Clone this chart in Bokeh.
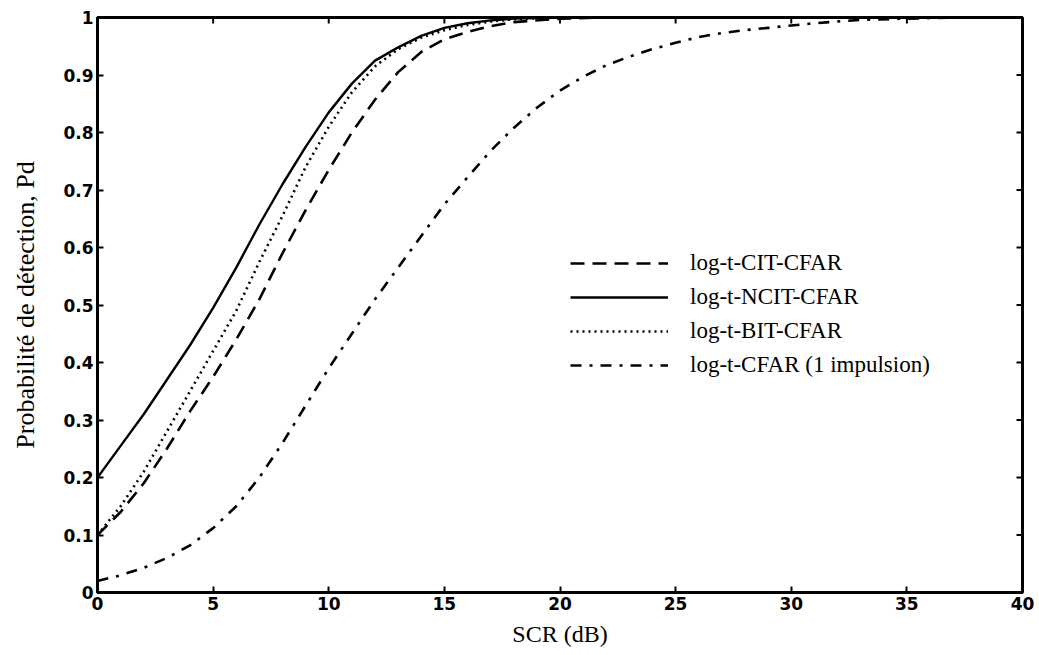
from bokeh.plotting import figure
from bokeh.models import Legend, LegendItem, Range1d, FixedTicker
from bokeh.embed import file_html
from bokeh.resources import INLINE

# SCR (dB) values and detection probabilities
x_ncit = [0, 1, 2, 3, 4, 5, 6, 7, 8, 9, 10, 11, 12, 13, 14, 15, 16, 17, 18, 20, 25, 30, 35, 40]
y_ncit = [0.20, 0.255, 0.31, 0.37, 0.43, 0.495, 0.565, 0.64, 0.71, 0.775, 0.835, 0.885, 0.925,
          0.948, 0.968, 0.982, 0.99, 0.995, 0.998, 1.0, 1.0, 1.0, 1.0, 1.0]

x_bit = [0, 1, 2, 3, 4, 5, 6, 7, 8, 9, 10, 11, 12, 13, 14, 15, 16, 17, 18, 20, 25, 30, 35, 40]
y_bit = [0.10, 0.15, 0.21, 0.28, 0.35, 0.42, 0.49, 0.575, 0.655, 0.74, 0.81, 0.87, 0.915,
         0.945, 0.965, 0.978, 0.987, 0.993, 0.997, 1.0, 1.0, 1.0, 1.0, 1.0]

x_cit = [0, 1, 2, 3, 4, 5, 6, 7, 8, 9, 10, 11, 12, 13, 14, 15, 16, 17, 18, 20, 22, 25, 30, 35, 40]
y_cit = [0.10, 0.14, 0.19, 0.25, 0.315, 0.375, 0.44, 0.51, 0.59, 0.665, 0.735, 0.80, 0.857,
         0.905, 0.94, 0.962, 0.975, 0.985, 0.992, 0.998, 1.0, 1.0, 1.0, 1.0, 1.0]

x_single = [0, 1, 2, 3, 4, 5, 6, 7, 8, 9, 10, 11, 12, 13, 14, 15, 16, 17, 18, 19, 20,
            21, 22, 23, 24, 25, 26, 27, 28, 29, 30, 31, 32, 33, 35, 37, 40]
y_single = [0.02, 0.03, 0.043, 0.06, 0.082, 0.112, 0.15, 0.20, 0.26, 0.325, 0.39, 0.45, 0.51,
            0.565, 0.62, 0.675, 0.722, 0.768, 0.808, 0.843, 0.873, 0.897, 0.917, 0.932, 0.945,
            0.956, 0.966, 0.973, 0.978, 0.982, 0.986, 0.99, 0.993, 0.996, 0.998, 1.0, 1.0]

x_ticks = [0, 5, 10, 15, 20, 25, 30, 35, 40]
y_ticks = [0, 0.1, 0.2, 0.3, 0.4, 0.5, 0.6, 0.7, 0.8, 0.9, 1.0]
y_tick_labels = ["0", "0.1", "0.2", "0.3", "0.4", "0.5", "0.6", "0.7", "0.8", "0.9", "1"]

labels = ["log-t-CIT-CFAR", "log-t-NCIT-CFAR", "log-t-BIT-CFAR", "log-t-CFAR (1 impulsion)"]

W, H = 1039, 655
BL, BR, BT, BB = 97, 17, 17, 63
x0, x1, y0, y1 = 0, 40, 0, 1

p = figure(width=W, height=H, output_backend="svg", toolbar_location=None,
           x_range=Range1d(x0, x1), y_range=Range1d(y0, y1),
           min_border_left=BL, min_border_right=BR, min_border_top=BT, min_border_bottom=BB)
p.background_fill_color = "white"
p.border_fill_color = "white"
p.xgrid.visible = False
p.ygrid.visible = False
p.outline_line_color = "black"
p.outline_line_width = 3

r_cit = p.line(x_cit, y_cit, line_color="black", line_width=2.6, line_dash="14 8")
r_ncit = p.line(x_ncit, y_ncit, line_color="black", line_width=2.4)
r_bit = p.line(x_bit, y_bit, line_color="black", line_width=2.6, line_dash="2 4")
r_single = p.line(x_single, y_single, line_color="black", line_width=2.6, line_dash="11 8 3 8")

# inward ticks on the top and right edges (mirroring the bottom/left ticks)
tick_px = 6
frame_w = W - BL - BR
frame_h = H - BT - BB
dy = tick_px / frame_h * (y1 - y0)
dx = tick_px / frame_w * (x1 - x0)
tx = [t for t in x_ticks if x0 < t < x1]
ty = [t for t in y_ticks if y0 < t < y1]
p.segment(x0=tx, y0=[y1] * len(tx), x1=tx, y1=[y1 - dy] * len(tx), line_color="black", line_width=2)
p.segment(x0=[x1] * len(ty), y0=ty, x1=[x1 - dx] * len(ty), y1=ty, line_color="black", line_width=2)

for ax in (p.xaxis[0], p.yaxis[0]):
    ax.axis_line_color = "black"
    ax.axis_line_width = 3
    ax.major_tick_in = 6
    ax.major_tick_out = 0
    ax.minor_tick_line_color = None
    ax.major_tick_line_color = "black"
    ax.major_tick_line_width = 2
    ax.major_label_text_font = "DejaVu Sans"
    ax.major_label_text_font_style = "bold"
    ax.major_label_text_font_size = "17px"
    ax.major_label_text_color = "black"
    ax.axis_label_text_font = "Liberation Serif"
    ax.axis_label_text_font_style = "normal"
    ax.axis_label_text_color = "black"

p.xaxis[0].ticker = FixedTicker(ticks=x_ticks)
p.yaxis[0].ticker = FixedTicker(ticks=y_ticks)
p.yaxis[0].major_label_overrides = {t: s for t, s in zip(y_ticks, y_tick_labels)}
p.xaxis[0].axis_label = "SCR (dB)"
p.yaxis[0].axis_label = "Probabilité de détection, Pd"
p.xaxis[0].axis_label_text_font_size = "24px"
p.yaxis[0].axis_label_text_font_size = "26px"
p.xaxis[0].major_label_standoff = 4
p.yaxis[0].major_label_standoff = 4
p.xaxis[0].axis_label_standoff = 8
p.yaxis[0].axis_label_standoff = 20

legend = Legend(items=[LegendItem(label=labels[0], renderers=[r_cit]),
                       LegendItem(label=labels[1], renderers=[r_ncit]),
                       LegendItem(label=labels[2], renderers=[r_bit]),
                       LegendItem(label=labels[3], renderers=[r_single])],
                location=(473, 212), orientation="vertical",
                border_line_color=None, background_fill_alpha=0,
                glyph_width=98, glyph_height=30, spacing=4, padding=0, margin=0,
                label_standoff=22, label_text_font="Liberation Serif",
                label_text_font_size="23px", label_text_color="black")
p.add_layout(legend, "center")

open("out.html", "w").write(file_html(p, INLINE))
